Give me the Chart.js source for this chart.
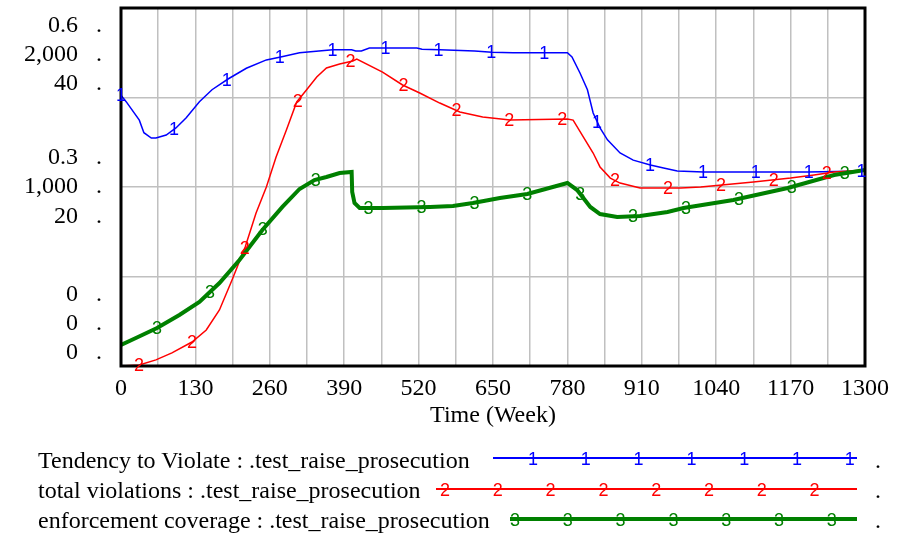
<!DOCTYPE html>
<html>
<head>
<meta charset="utf-8">
<script src="https://cdn.jsdelivr.net/npm/chart.js@4.4.0/dist/chart.umd.min.js"></script>
<style>
  html, body { margin: 0; padding: 0; background: #fff; }
  #wrap { position: relative; width: 905px; height: 533px; overflow: hidden; }
  #wrap canvas { position: absolute; left: 0; top: 0; }
  .row { position: absolute; left: 38px; font: 24px "Liberation Serif", "Times New Roman", serif; line-height: 30px; white-space: nowrap; color: #000; }
  .key { position: absolute; }
  .mark { position: absolute; font: 18px "Liberation Sans", Arial, sans-serif; line-height: 18px; transform: translateX(-50%); }
  .enddot { position: absolute; font: 24px "Liberation Serif", "Times New Roman", serif; line-height: 30px; }
</style>
</head>
<body>
<div id="wrap">
  <canvas id="chart" width="905" height="533"></canvas>
  <div id="legend"></div>
</div>
<script>
// series names as shown in the legend
const seriesNames = [
  'Tendency to Violate : .test_raise_prosecution',
  'total violations : .test_raise_prosecution',
  'enforcement coverage : .test_raise_prosecution'
];

// time axis (weeks)
const timeTicks = [0, 130, 260, 390, 520, 650, 780, 910, 1040, 1170, 1300];

// left axis labels, one per scale: bottom, middle, top
const tendencyTicks = ['0', '0.3', '0.6'];
const violationTicks = ['0', '1,000', '2,000'];
const coverageTicks = ['0', '20', '40'];

// 1: Tendency to Violate (0 - 0.6)
const tendencyWeeks = [0, 9, 32, 40, 53, 61, 79, 96, 114, 137, 159, 187, 219, 254, 279, 312, 370, 403, 410, 420, 434, 517, 526, 557, 618, 648, 685, 780, 788, 802, 815, 825, 837, 850, 872, 895, 925, 948, 972, 1018, 1200, 1300];
const tendencyValues = [0.454, 0.443, 0.412, 0.391, 0.382, 0.382, 0.387, 0.399, 0.416, 0.443, 0.463, 0.481, 0.499, 0.513, 0.518, 0.525, 0.530, 0.530, 0.528, 0.528, 0.533, 0.533, 0.531, 0.530, 0.528, 0.526, 0.525, 0.525, 0.518, 0.491, 0.463, 0.424, 0.399, 0.379, 0.357, 0.345, 0.337, 0.332, 0.327, 0.325, 0.325, 0.327];

// 2: total violations (0 - 2000)
const violationWeeks = [0, 32, 61, 89, 124, 149, 172, 194, 217, 236, 254, 271, 289, 307, 324, 342, 359, 382, 405, 412, 457, 492, 522, 557, 592, 632, 680, 780, 790, 808, 825, 837, 855, 872, 907, 978, 1013, 1105, 1170, 1211, 1246, 1300];
const violationValues = [0, 6, 34, 73, 134, 201, 313, 480, 665, 855, 1000, 1168, 1318, 1475, 1542, 1615, 1665, 1687, 1704, 1715, 1642, 1570, 1525, 1469, 1419, 1391, 1374, 1380, 1374, 1279, 1190, 1112, 1050, 1022, 994, 994, 1000, 1028, 1050, 1067, 1084, 1095];

// 3: enforcement coverage (0 - 40)
const coverageWeeks = [0, 26, 63, 102, 137, 172, 207, 247, 282, 312, 338, 359, 382, 403, 404, 408, 417, 457, 540, 580, 615, 662, 710, 780, 797, 820, 837, 867, 907, 955, 983, 1070, 1165, 1246, 1300];
const coverageValues = [2.35, 3.13, 4.25, 5.70, 7.15, 9.27, 11.84, 15.20, 17.77, 19.78, 20.78, 21.12, 21.56, 21.68, 19.44, 18.21, 17.65, 17.65, 17.77, 17.88, 18.21, 18.77, 19.22, 20.45, 19.66, 17.77, 16.98, 16.65, 16.76, 17.21, 17.65, 18.55, 19.89, 21.34, 21.90];

const serif = '"Liberation Serif", "Times New Roman", serif';
const colors = ['#0000ff', '#ff0000', '#008000'];
const widths = [1.5, 1.5, 4];

function pairs(xs, ys) {
  return xs.map((x, i) => ({ x: x, y: ys[i] }));
}

// stacked left labels: top group, middle group, bottom group (pixel offsets in the plot)
const plotH = 358;
const labelItems = [];
[0, 1, 2].forEach(function(k) {
  labelItems.push({ v: 1 - (18 + k * 29) / plotH, t: [tendencyTicks[2], violationTicks[2], coverageTicks[2]][k] });
  labelItems.push({ v: 0.5 + (1 - k) * 29.5 / plotH, t: [tendencyTicks[1], violationTicks[1], coverageTicks[1]][k] });
  labelItems.push({ v: (13 + (2 - k) * 29) / plotH, t: [tendencyTicks[0], violationTicks[0], coverageTicks[0]][k] });
});
labelItems.sort((a, b) => a.v - b.v);

// frame and numbered markers along each curve, like the original plot
const markerPlugin = {
  id: 'markers',
  afterDatasetsDraw(chart) {
    const ctx = chart.ctx;
    const area = chart.chartArea;
    ctx.save();
    ctx.strokeStyle = '#000';
    ctx.lineWidth = 3;
    ctx.strokeRect(area.left, area.top, area.right - area.left, area.bottom - area.top);

    const offsets = [0, 18, 36];
    const step = 52.9;
    ctx.font = '18px "Liberation Sans", Arial, sans-serif';
    ctx.textAlign = 'center';
    ctx.textBaseline = 'middle';
    chart.data.datasets.forEach(function(ds, i) {
      const pts = chart.getDatasetMeta(i).data;
      ctx.fillStyle = colors[i];
      for (let px = area.left + offsets[i]; px <= area.right + 1; px += step) {
        let py = pts[pts.length - 1].y;
        for (let j = 0; j < pts.length - 1; j++) {
          if (pts[j].x <= px && pts[j + 1].x >= px) {
            const f = pts[j + 1].x === pts[j].x ? 0 : (px - pts[j].x) / (pts[j + 1].x - pts[j].x);
            py = pts[j].y + f * (pts[j + 1].y - pts[j].y);
            break;
          }
        }
        ctx.fillText(String(i + 1), px, py + 1);
      }
    });
    ctx.restore();
  }
};

const ctx = document.getElementById('chart');
new Chart(ctx, {
  type: 'line',
  data: {
    datasets: [
      { label: seriesNames[0], data: pairs(tendencyWeeks, tendencyValues), yAxisID: 'yT', order: 2 },
      { label: seriesNames[1], data: pairs(violationWeeks, violationValues), yAxisID: 'yV', order: 1 },
      { label: seriesNames[2], data: pairs(coverageWeeks, coverageValues), yAxisID: 'yC', order: 0 }
    ].map(function(d, i) {
      d.borderColor = colors[i];
      d.borderWidth = widths[i];
      d.pointRadius = 0;
      d.tension = 0;
      d.fill = false;
      return d;
    })
  },
  options: {
    responsive: false,
    animation: false,
    devicePixelRatio: 1,
    layout: { padding: { left: 0, top: 8, right: 40, bottom: 103 } },
    plugins: { legend: { display: false }, tooltip: { enabled: false } },
    scales: {
      x: {
        type: 'linear',
        min: 0,
        max: 1300,
        afterBuildTicks: function(scale) {
          const t = [];
          for (let v = 0; v <= 1300; v += 65) t.push({ value: v });
          scale.ticks = t;
        },
        ticks: {
          autoSkip: false,
          maxRotation: 0,
          padding: 8,
          color: '#000',
          font: { family: serif, size: 24 },
          callback: function(v) { return timeTicks.indexOf(v) >= 0 ? String(v) : ''; }
        },
        grid: { color: '#c0c0c0', lineWidth: 1.5, drawTicks: false },
        border: { display: false },
        title: { display: true, text: 'Time (Week)', color: '#000', font: { family: serif, size: 24 }, padding: 0 },
        afterFit: function(scale) { scale.height = 64; }
      },
      yV: {
        position: 'left',
        min: 0,
        max: 2000,
        ticks: { display: false, stepSize: 500 },
        grid: { color: '#c0c0c0', lineWidth: 1.5, drawTicks: false },
        border: { display: false },
        afterFit: function(scale) {
          scale.width = 0;
          scale.paddingTop = 0;
          scale.paddingBottom = 0;
        }
      },
      yLab: {
        position: 'left',
        min: 0,
        max: 1,
        afterBuildTicks: function(scale) {
          scale.ticks = labelItems.map(it => ({ value: it.v }));
        },
        ticks: {
          autoSkip: false,
          padding: 19,
          color: '#000',
          font: { family: serif, size: 24 },
          callback: function(v, i) { return labelItems[i].t + '   .'; }
        },
        grid: { display: false, drawTicks: false },
        border: { display: false },
        afterFit: function(scale) {
          scale.width = 121;
          scale.paddingTop = 0;
          scale.paddingBottom = 0;
        }
      },
      yT: { display: false, min: 0, max: 0.6 },
      yC: { display: false, min: 0, max: 40 }
    }
  },
  plugins: [markerPlugin]
});

// legend below the plot
const legendRows = [
  { top: 445, lineY: 458, x0: 493, x1: 857, mark0: 533, count: 7 },
  { top: 475, lineY: 489, x0: 436, x1: 857, mark0: 445, count: 8 },
  { top: 505, lineY: 519, x0: 510, x1: 857, mark0: 515, count: 7 }
];
const legend = document.getElementById('legend');
legendRows.forEach(function(r, i) {
  const txt = document.createElement('div');
  txt.className = 'row';
  txt.style.top = r.top + 'px';
  txt.textContent = seriesNames[i];
  legend.appendChild(txt);

  const line = document.createElement('div');
  line.className = 'key';
  line.style.left = r.x0 + 'px';
  line.style.width = (r.x1 - r.x0) + 'px';
  line.style.top = (r.lineY - widths[i] / 2) + 'px';
  line.style.height = widths[i] + 'px';
  line.style.background = colors[i];
  legend.appendChild(line);

  for (let k = 0; k < r.count; k++) {
    const m = document.createElement('span');
    m.className = 'mark';
    m.style.left = (r.mark0 + k * 52.8) + 'px';
    m.style.top = (r.lineY - 8) + 'px';
    m.style.color = colors[i];
    m.textContent = String(i + 1);
    legend.appendChild(m);
  }

  const dot = document.createElement('span');
  dot.className = 'enddot';
  dot.style.left = '875px';
  dot.style.top = r.top + 'px';
  dot.textContent = '.';
  legend.appendChild(dot);
});
</script>
</body>
</html>
